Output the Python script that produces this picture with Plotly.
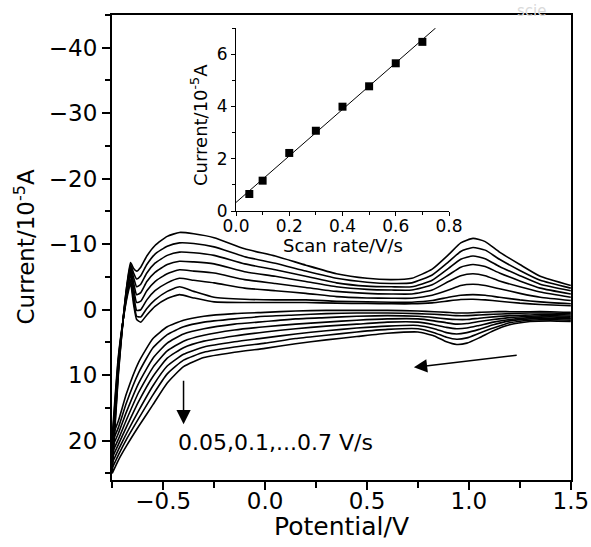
import numpy as np
import plotly.graph_objects as go

# ---------------- data (currents in 1e-5 A, potentials in V) ----------------
scan_rates = [0.05, 0.1, 0.2, 0.3, 0.4, 0.5, 0.6, 0.7]

# reverse (cathodic) sweep potentials, 1.5 V -> -0.75 V
E_rev = [1.5, 1.4, 1.3, 1.2, 1.12, 1.05, 0.99, 0.94, 0.89, 0.83, 0.75, 0.6, 0.45,
         0.3, 0.15, 0.0, -0.15, -0.3, -0.4, -0.48, -0.55, -0.62, -0.68, -0.72, -0.75]
# forward (anodic) sweep potentials, -0.75 V -> 1.5 V
E_fwd = [-0.75, -0.72, -0.695, -0.675, -0.66, -0.645, -0.63, -0.61, -0.58, -0.54,
         -0.48, -0.42, -0.35, -0.25, -0.1, 0.05, 0.2, 0.35, 0.5, 0.62, 0.72, 0.82,
         0.9, 0.96, 1.02, 1.08, 1.15, 1.25, 1.35, 1.5]

rev_005 = [0.4, 0.3, 0.3, 0.3, 0.3, 0.4, 0.5, 0.5, 0.4, 0.3, 0.2, 0.1, 0.1, 0.1, 0.2, 0.4, 0.6, 1.0, 1.6, 2.6, 4.4, 8.0, 12.8, 17.0, 19.4]
rev_01 = [0.6, 0.5, 0.5, 0.6, 0.7, 0.8, 0.9, 0.9, 0.8, 0.7, 0.6, 0.5, 0.5, 0.6, 0.8, 1.0, 1.4, 1.9, 2.6, 3.8, 5.8, 9.6, 14.2, 18.0, 20.2]
rev_02 = [0.8, 0.7, 0.8, 0.9, 1.1, 1.3, 1.5, 1.5, 1.4, 1.2, 1.0, 0.9, 1.0, 1.2, 1.4, 1.8, 2.2, 2.9, 3.7, 5.1, 7.4, 11.2, 15.6, 18.9, 21.0]
rev_03 = [1.0, 0.9, 1.0, 1.2, 1.5, 1.8, 2.1, 2.2, 2.0, 1.7, 1.4, 1.4, 1.6, 1.9, 2.2, 2.6, 3.1, 3.9, 4.8, 6.3, 8.8, 12.6, 16.8, 19.8, 21.8]
rev_04 = [1.2, 1.1, 1.2, 1.5, 1.9, 2.4, 2.8, 2.9, 2.7, 2.3, 1.9, 1.9, 2.2, 2.5, 2.9, 3.4, 4.0, 4.8, 5.8, 7.4, 10.2, 14.0, 17.9, 20.6, 22.6]
rev_05 = [1.4, 1.3, 1.4, 1.7, 2.3, 3.0, 3.5, 3.7, 3.5, 2.9, 2.4, 2.5, 2.8, 3.2, 3.7, 4.3, 4.9, 5.7, 6.8, 8.6, 11.6, 15.4, 18.9, 21.4, 23.4]
rev_06 = [1.6, 1.5, 1.6, 2.0, 2.8, 3.6, 4.3, 4.5, 4.2, 3.5, 2.9, 3.0, 3.4, 3.9, 4.4, 5.1, 5.7, 6.5, 7.7, 9.8, 13.0, 16.6, 19.8, 22.2, 24.2]
rev_07 = [1.8, 1.7, 1.8, 2.3, 3.2, 4.3, 5.1, 5.3, 4.9, 4.0, 3.4, 3.6, 4.1, 4.6, 5.2, 5.9, 6.5, 7.3, 8.7, 11.2, 14.5, 17.8, 20.8, 23.0, 25.0]

fwd_005 = [19.4, 7.2, 1.3, -2.2, -4.0, -0.8, 1.5, 1.9, 0.8, -0.5, -1.7, -2.3, -1.8, -1.2, -1.1, -1.1, -1.1, -1.0, -0.95, -0.9, -0.9, -1.05, -1.35, -1.55, -1.6, -1.5, -1.3, -1.0, -0.8, -0.6]
fwd_01 = [20.2, 7.6, 1.3, -2.6, -4.6, -1.5, 1.0, 1.1, -0.2, -1.5, -2.8, -3.5, -2.8, -1.9, -1.6, -1.5, -1.5, -1.3, -1.2, -1.15, -1.15, -1.4, -1.9, -2.2, -2.3, -2.2, -1.9, -1.5, -1.2, -0.9]
fwd_02 = [21.0, 8.0, 1.2, -3.0, -5.3, -2.5, 0.1, 0.0, -1.5, -2.9, -4.1, -4.8, -4.5, -4.1, -3.3, -2.9, -2.5, -2.0, -1.8, -1.75, -1.75, -2.2, -3.0, -3.7, -3.9, -3.7, -3.2, -2.5, -1.9, -1.4]
fwd_03 = [21.8, 8.4, 1.2, -3.4, -5.8, -3.3, -1.1, -1.3, -2.9, -4.3, -5.5, -6.1, -5.9, -5.6, -4.6, -4.0, -3.4, -2.8, -2.5, -2.4, -2.4, -3.0, -4.3, -5.2, -5.5, -5.2, -4.4, -3.5, -2.7, -1.9]
fwd_04 = [22.6, 8.8, 1.1, -3.7, -6.2, -4.1, -2.3, -2.6, -4.3, -5.7, -6.9, -7.4, -7.3, -7.0, -5.8, -5.1, -4.3, -3.5, -3.1, -3.0, -3.0, -3.8, -5.3, -6.5, -6.9, -6.6, -5.6, -4.4, -3.3, -2.4]
fwd_05 = [23.4, 9.2, 1.1, -4.0, -6.6, -4.9, -3.5, -3.9, -5.6, -7.1, -8.3, -8.8, -8.7, -8.3, -7.0, -6.1, -5.1, -4.1, -3.6, -3.5, -3.5, -4.5, -6.3, -7.7, -8.2, -7.8, -6.6, -5.2, -3.9, -2.9]
fwd_06 = [24.2, 9.6, 1.0, -4.3, -6.9, -5.6, -4.7, -5.2, -6.9, -8.5, -9.7, -10.2, -10.1, -9.6, -8.1, -7.1, -5.9, -4.8, -4.2, -4.0, -4.1, -5.3, -7.3, -8.9, -9.5, -9.1, -7.7, -6.0, -4.5, -3.3]
fwd_07 = [25.0, 10.0, 1.0, -4.5, -7.2, -6.3, -5.9, -6.5, -8.2, -9.8, -11.2, -11.8, -11.6, -11.0, -9.3, -8.2, -6.8, -5.5, -4.8, -4.6, -4.8, -6.2, -8.4, -10.2, -10.9, -10.4, -8.8, -6.9, -5.1, -3.7]

rev_curves = [rev_005, rev_01, rev_02, rev_03, rev_04, rev_05, rev_06, rev_07]
fwd_curves = [fwd_005, fwd_01, fwd_02, fwd_03, fwd_04, fwd_05, fwd_06, fwd_07]

# inset: peak current vs scan rate
inset_rate = [0.05, 0.1, 0.2, 0.3, 0.4, 0.5, 0.6, 0.7]
inset_current = [0.65, 1.16, 2.22, 3.07, 3.99, 4.77, 5.65, 6.47]

x_tick_vals = [-0.5, 0.0, 0.5, 1.0, 1.5]
y_tick_vals = [-40, -30, -20, -10, 0, 10, 20]

# ---------------- figure ----------------
W, H = 591, 547
FONT = "DejaVu Sans"

def px_x(p):
    return p / W

def px_y(p):
    return (H - p) / H

fig = go.Figure()

for rate, rv, fw in zip(scan_rates, rev_curves, fwd_curves):
    fig.add_trace(go.Scatter(
        x=E_rev + E_fwd, y=rv + fw, mode="lines",
        line=dict(color="black", width=1.6, shape="spline", smoothing=0.5),
        name=f"{rate} V/s", showlegend=False, hoverinfo="skip",
        xaxis="x", yaxis="y"))

# inset fit line
slope, intercept = np.polyfit(inset_rate, inset_current, 1)
x_end = (7.0 - intercept) / slope
fit_x = [0.0, x_end]
fig.add_trace(go.Scatter(
    x=fit_x, y=[intercept + slope * v for v in fit_x], mode="lines",
    line=dict(color="black", width=1), showlegend=False, hoverinfo="skip",
    xaxis="x2", yaxis="y2"))
fig.add_trace(go.Scatter(
    x=inset_rate, y=inset_current, mode="markers",
    marker=dict(symbol="square", size=8, color="black"),
    showlegend=False, xaxis="x2", yaxis="y2"))

main_dom_x = [px_x(112), px_x(571)]
main_dom_y = [px_y(480), px_y(15)]
ins_dom_x = [px_x(236), px_x(449)]
ins_dom_y = [px_y(211), px_y(28)]

fig.update_layout(
    width=W, height=H, autosize=False,
    margin=dict(l=0, r=0, t=0, b=0, pad=0, autoexpand=False),
    paper_bgcolor="white", plot_bgcolor="rgba(0,0,0,0)",
    font=dict(family=FONT, color="black"),
    showlegend=False,
    xaxis=dict(
        domain=main_dom_x, range=[-0.751, 1.501], anchor="y", automargin=False,
        showline=True, linewidth=2, linecolor="black", mirror=True,
        ticks="outside", ticklen=8, tickwidth=1.5, tickcolor="black",
        tickvals=x_tick_vals, tickformat=".1f", ticklabelstandoff=-9,
        minor=dict(dtick=0.25, tick0=0, ticks="outside", ticklen=6, tickwidth=1.5, tickcolor="black"),
        showgrid=False, zeroline=False,
        tickfont=dict(family=FONT, size=23, color="black")),
    yaxis=dict(
        domain=main_dom_y, range=[26, -45], anchor="x", automargin=False,
        showline=True, linewidth=2, linecolor="black", mirror=True,
        ticks="outside", ticklen=8, tickwidth=1.5, tickcolor="black",
        tickvals=y_tick_vals,
        minor=dict(dtick=5, tick0=0, ticks="outside", ticklen=5, tickwidth=1.5, tickcolor="black"),
        showgrid=False, zeroline=False,
        tickfont=dict(family=FONT, size=23, color="black")),
    xaxis2=dict(
        domain=ins_dom_x, range=[0, 0.8], anchor="y2", automargin=False,
        showline=True, linewidth=1, linecolor="black", mirror=False,
        ticks="outside", ticklen=4, tickwidth=1, tickcolor="black",
        dtick=0.2, tick0=0, tickformat=".1f", ticklabelstandoff=-4,
        minor=dict(dtick=0.1, ticks="outside", ticklen=3, tickwidth=1, tickcolor="black"),
        showgrid=False, zeroline=False,
        tickfont=dict(family=FONT, size=17, color="black")),
    yaxis2=dict(
        domain=ins_dom_y, range=[0, 7], anchor="x2", automargin=False,
        showline=True, linewidth=1, linecolor="black", mirror=False,
        ticks="outside", ticklen=4, tickwidth=1, tickcolor="black",
        dtick=2, tick0=0, ticklabelstandoff=0,
        minor=dict(dtick=1, ticks="outside", ticklen=3, tickwidth=1, tickcolor="black"),
        showgrid=False, zeroline=False,
        tickfont=dict(family=FONT, size=17, color="black")),
)

annotations = [
    # main axis titles
    dict(text="Current/10<sup>-5</sup>A", textangle=-90, x=px_x(24), y=(main_dom_y[0] + main_dom_y[1]) / 2,
         xref="paper", yref="paper", xanchor="center", yanchor="middle", showarrow=False,
         font=dict(family=FONT, size=23, color="black")),
    dict(text="Potential/V", x=(main_dom_x[0] + main_dom_x[1]) / 2, y=px_y(526),
         xref="paper", yref="paper", xanchor="center", yanchor="middle", showarrow=False,
         font=dict(family=FONT, size=25, color="black")),
    # inset titles
    dict(text="Current/10<sup>-5</sup>A", textangle=-90, x=px_x(199), y=px_y(125),
         xref="paper", yref="paper", xanchor="center", yanchor="middle", showarrow=False,
         font=dict(family=FONT, size=18, color="black")),
    dict(text="Scan rate/V/s", x=(ins_dom_x[0] + ins_dom_x[1]) / 2, y=px_y(246),
         xref="paper", yref="paper", xanchor="center", yanchor="middle", showarrow=False,
         font=dict(family=FONT, size=18, color="black")),
    # scan-rate label
    dict(text="0.05,0.1,...0.7 V/s", x=-0.435, y=20.3, xref="x", yref="y",
         xanchor="left", yanchor="middle", showarrow=False,
         font=dict(family=FONT, size=22, color="black")),
    # arrows
    dict(text="", x=-0.40, y=17.5, ax=-0.40, ay=10.6, xref="x", yref="y", axref="x", ayref="y",
         showarrow=True, arrowhead=2, arrowsize=1.9, arrowwidth=1.5, arrowcolor="black"),
    dict(text="", x=0.73, y=8.8, ax=1.242, ay=6.93, xref="x", yref="y", axref="x", ayref="y",
         showarrow=True, arrowhead=2, arrowsize=1.9, arrowwidth=1.4, arrowcolor="black"),
    # faint watermark at the top edge
    dict(text="scie", x=px_x(515), y=1.0, xref="paper", yref="paper",
         xanchor="left", yanchor="top", showarrow=False,
         font=dict(family=FONT, size=15, color="#dadada")),
]
fig.update_layout(annotations=annotations)

fig.write_html("out.html", config={"displayModeBar": False},
               post_script="document.body.style.margin='0';")
